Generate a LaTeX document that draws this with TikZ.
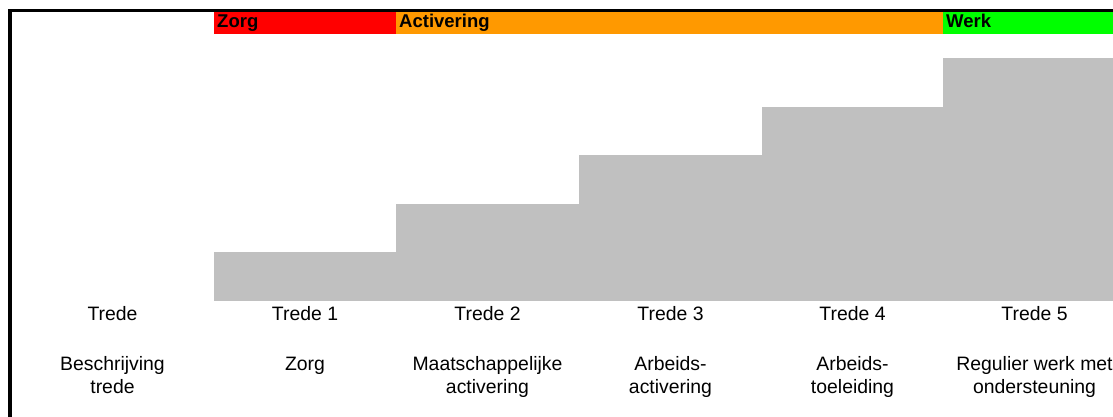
\documentclass[tikz,border=0pt]{standalone}
\usepackage{fontspec}
\setmainfont{Liberation Sans}
\definecolor{zorgred}{HTML}{FF0000}
\definecolor{actorange}{HTML}{FF9900}
\definecolor{werkgreen}{HTML}{00FF00}
\definecolor{stepgray}{HTML}{C0C0C0}
\tikzset{
  hdrtext/.style={anchor=base west, inner sep=0pt, font=\bfseries\fontsize{18.5bp}{20bp}\selectfont},
  stepbar/.style={fill=stepgray, draw=none, anchor=south west, inner sep=0pt, outer sep=0pt, minimum width=182.5bp},
  lbl/.style={anchor=base, inner sep=0pt, align=center, font=\fontsize{19.4bp}{23bp}\selectfont},
  frame/.style={line width=3.5bp, line cap=butt}
}
\begin{document}
\begin{tikzpicture}[x=1bp, y=-1bp]
\useasboundingbox (0,0) rectangle (1113,416);
\clip (0,0) rectangle (1113,416);
\fill[white] (0,0) rectangle (1113,416);
% header band
\fill[zorgred] (214,12) rectangle (396,34);
\fill[actorange] (396,12) rectangle (943,34);
\fill[werkgreen] (943,12) rectangle (1130,34);
\node[hdrtext] (hzorg) at (217,27.5) {Zorg};
\node[hdrtext] (hact) at (399,27.5) {Activering};
\node[hdrtext] (hwerk) at (946,27.5) {Werk};
% staircase
\node[stepbar, minimum height=48.5bp] (s1) at (214,300.5) {};
\node[stepbar, minimum height=96.5bp] (s2) at (396,300.5) {};
\node[stepbar, minimum height=145.5bp] (s3) at (579,300.5) {};
\node[stepbar, minimum height=193.5bp] (s4) at (762,300.5) {};
\node[stepbar, minimum height=242.5bp, minimum width=190bp] (s5) at (943,300.5) {};
% labels row 1
\node[lbl] (t0) at (112.5,320.5) {Trede};
\node[lbl] (t1) at (305,320.5) {Trede 1};
\node[lbl] (t2) at (487.5,320.5) {Trede 2};
\node[lbl] (t3) at (670.5,320.5) {Trede 3};
\node[lbl] (t4) at (852.5,320.5) {Trede 4};
\node[lbl] (t5) at (1034.5,320.5) {Trede 5};
% labels row 2 (base = last line)
\node[lbl] (d0) at (112.5,393) {Beschrijving\\trede};
\node[lbl] (d1) at (305,370) {Zorg};
\node[lbl] (d2) at (487.5,393) {Maatschappelijke\\activering};
\node[lbl] (d3) at (670.5,393) {Arbeids-\\activering};
\node[lbl] (d4) at (852.5,393) {Arbeids-\\toeleiding};
\node[lbl] (d5) at (1034.5,393) {Regulier werk met\\ondersteuning};
% frame
\coordinate (fbl) at (10,430);
\coordinate (ftl) at (10,10.5);
\coordinate (ftr) at (1130,10.5);
\draw[frame] (fbl) -- (ftl) -- (ftr);
\end{tikzpicture}
\end{document}
